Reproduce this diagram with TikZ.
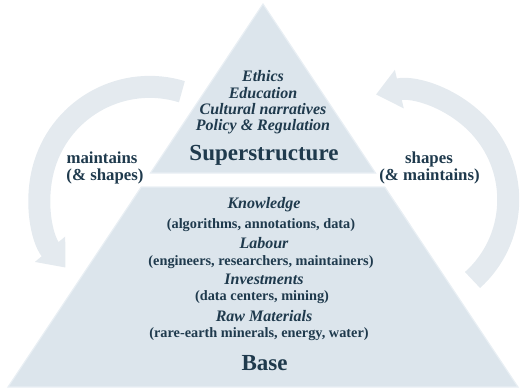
\documentclass[tikz,border=0pt]{standalone}
\usepackage{fontspec}
\setmainfont{Liberation Serif}
\usetikzlibrary{arrows.meta,positioning}
\definecolor{inkblue}{HTML}{1F3A4D}
\definecolor{layerfill}{HTML}{DCE5EC}
\definecolor{layeredge}{HTML}{E9EFF4}
\definecolor{loopfill}{HTML}{E4EAEF}

\begin{document}
\begin{tikzpicture}[
  x=1pt,
  y=-1pt,
  layer/.style={fill=layerfill, draw=layeredge, line width=1.2pt},
  loopband/.style={draw=loopfill, line width=22pt, -{Triangle[length=24pt,width=38pt]}},
  item/.style={font=\fontsize{16}{16}\selectfont\bfseries\itshape, text=inkblue, anchor=base, inner sep=0pt},
  detail/.style={font=\fontsize{14.3}{15}\selectfont\bfseries, text=inkblue, anchor=base, inner sep=0pt},
  heading/.style={font=\fontsize{23}{23}\selectfont\bfseries, text=inkblue, anchor=base, inner sep=0pt},
  side/.style={font=\fontsize{16.8}{17}\selectfont\bfseries, text=inkblue, anchor=base, inner sep=0pt}
]
\useasboundingbox (0,0) rectangle (520,388);

\coordinate (apex) at (263,4);
\coordinate (supL) at (150.5,173);
\coordinate (supR) at (375.5,173);
\coordinate (baseTL) at (141.3,187);
\coordinate (baseTR) at (384.7,187);
\coordinate (baseBL) at (8,387);
\coordinate (baseBR) at (518,387);
\draw[layer] (apex) -- (supR) -- (supL) -- cycle;
\draw[layer] (baseTL) -- (baseTR) -- (baseBR) -- (baseBL) -- cycle;

\coordinate (ltail) at (181.9,91.7);
\coordinate (rtail) at (472.5,280);
\draw[loopband] (ltail) arc[start angle=-73, end angle=-220, radius=110];
\draw[loopband] (rtail) arc[start angle=48, end angle=-103, radius=108];

\node[item] (ethics) at (263,81.3) {Ethics};
\node[item] (educ) at (263,98.3) {Education};
\node[item] (cult) at (263,114.3) {Cultural narratives};
\node[item] (policy) at (263,130.3) {Policy \& Regulation};
\node[heading] (super) at (264,160.6) {Superstructure};

\node[item] (know) at (264,208.3) {Knowledge};
\node[detail] (knowd) at (261,228.7) {(algorithms, annotations, data)};
\node[item] (labour) at (264,248.3) {Labour};
\node[detail] (labourd) at (261,265.7) {(engineers, researchers, maintainers)};
\node[item] (invest) at (264,284.3) {Investments};
\node[detail] (investd) at (262,300.7) {(data centers, mining)};
\node[item] (raw) at (264,321.3) {Raw Materials};
\node[detail] (rawd) at (259,337.7) {(rare-earth minerals, energy, water)};
\node[heading] (base) at (264.5,370.6) {Base};

\node[side] (maint1) at (102,163.6) {maintains};
\node[side] (maint2) at (105,180.6) {(\& shapes)};
\node[side] (shape1) at (429,163.6) {shapes};
\node[side] (shape2) at (429.5,180.6) {(\& maintains)};
\end{tikzpicture}
\end{document}
